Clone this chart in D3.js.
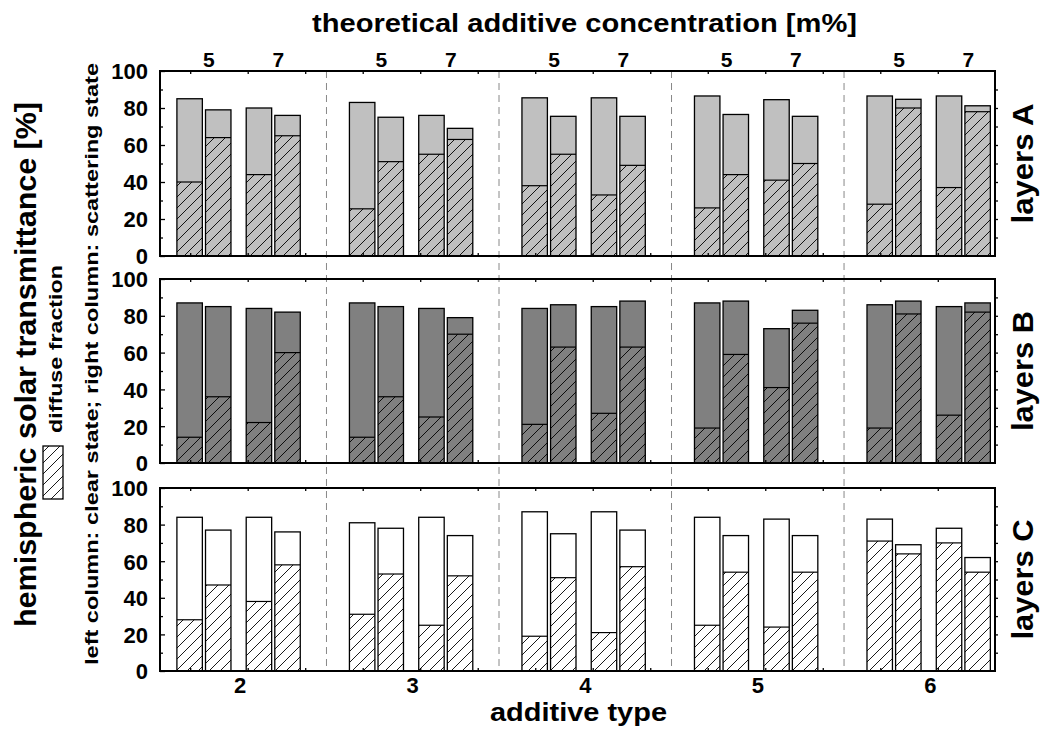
<!DOCTYPE html>
<html>
<head>
<meta charset="utf-8">
<script src="https://cdn.jsdelivr.net/npm/d3@7"></script>
<style>
  body { margin: 0; background: #fff; }
  text { font-family: "Liberation Sans", Arial, sans-serif; font-weight: bold; fill: #000; }
</style>
</head>
<body>
<svg id="chart"></svg>
<script>
const types = [2, 3, 4, 5, 6];
const concentrations = ["5", "7"];
const states = ["clear", "scattering"];
const layerNames = ["layers A", "layers B", "layers C"];
const yTicks = [0, 20, 40, 60, 80, 100];

// per additive type: [5 clear, 5 scattering, 7 clear, 7 scattering]
const totalA = [[85, 79, 80, 76], [83, 75, 76, 69], [85.5, 75.5, 85.5, 75.5], [86.5, 76.5, 84.5, 75.5], [86.5, 84.7, 86.5, 81.2]];
const diffuseA = [[40, 64, 44, 65], [25.5, 51, 55, 63], [38, 55, 33, 49], [26, 44, 41, 50], [28, 80, 37, 78]];
const totalB = [[87, 85, 84, 82], [87, 85, 84, 79], [84, 86, 85, 88], [87, 88, 73, 83], [86, 88, 85, 87]];
const diffuseB = [[14, 36, 22, 60], [14, 36, 25, 70], [21, 63, 27, 63], [19, 59, 41, 76], [19, 81, 26, 82]];
const totalC = [[84, 77, 84, 76], [81, 78, 84, 74], [87, 75, 87, 77], [84, 74, 83, 74], [83, 69, 78, 62]];
const diffuseC = [[28, 47, 38, 58], [31, 53, 25, 52], [19, 51, 21, 57], [25, 54, 24, 54], [71, 64, 70, 54]];

const width = 1046;
const height = 734;
const left = 160, right = 995;
const panels = [
  { top: 71, bottom: 256, fill: "#c0c0c0", total: totalA, diffuse: diffuseA },
  { top: 279, bottom: 463, fill: "#808080", total: totalB, diffuse: diffuseB },
  { top: 488, bottom: 671, fill: "#ffffff", total: totalC, diffuse: diffuseC }
];

const svg = d3.select("#chart").attr("width", width).attr("height", height);

svg.append("defs").append("pattern")
    .attr("id", "hatch")
    .attr("patternUnits", "userSpaceOnUse")
    .attr("width", 11).attr("height", 11)
  .append("path")
    .attr("d", "M0,11 L11,0 M-1,1 L1,-1 M10,12 L12,10")
    .attr("stroke", "#000")
    .attr("stroke-width", 0.9);

const x = d3.scaleLinear().domain([1.535, 6.375]).range([left, right]);
const conc = d3.scaleBand().domain(concentrations).range([-0.367, 0.348]).paddingInner(0.22);
const state = d3.scaleBand().domain(states).range([0, conc.bandwidth()]).paddingInner(0.11);
const minorX = d3.range(1.71, 6.375, 1 / 3);

// dashed separators between additive types
svg.selectAll(".sep")
  .data(types.slice(0, -1))
  .enter()
  .append("line")
    .attr("x1", d => x(d + 0.5)).attr("x2", d => x(d + 0.5))
    .attr("y1", panels[0].top).attr("y2", panels[2].bottom)
    .attr("stroke", "#888")
    .attr("stroke-width", 1)
    .attr("stroke-dasharray", "7,5");

panels.forEach((p, i) => {
  const y = d3.scaleLinear().domain([0, 100]).range([p.bottom, p.top]);
  const g = svg.append("g");

  const bars = [];
  types.forEach((t, ti) => {
    concentrations.forEach((c, ci) => {
      states.forEach((s, si) => {
        bars.push({
          x0: t + conc(c) + state(s),
          total: p.total[ti][ci * 2 + si],
          diffuse: p.diffuse[ti][ci * 2 + si]
        });
      });
    });
  });
  const bw = x(2 + state.bandwidth()) - x(2);

  const bar = g.selectAll(".bar").data(bars).enter().append("g");
  bar.append("rect")
      .attr("x", d => x(d.x0)).attr("width", bw)
      .attr("y", d => y(d.total)).attr("height", d => y(0) - y(d.total))
      .attr("fill", p.fill);
  bar.append("rect")
      .attr("x", d => x(d.x0)).attr("width", bw)
      .attr("y", d => y(d.diffuse)).attr("height", d => y(0) - y(d.diffuse))
      .attr("fill", "url(#hatch)");
  bar.append("line")
      .attr("x1", d => x(d.x0)).attr("x2", d => x(d.x0) + bw)
      .attr("y1", d => y(d.diffuse)).attr("y2", d => y(d.diffuse))
      .attr("stroke", "#000").attr("stroke-width", 1.2);
  bar.append("rect")
      .attr("x", d => x(d.x0)).attr("width", bw)
      .attr("y", d => y(d.total)).attr("height", d => y(0) - y(d.total))
      .attr("fill", "none")
      .attr("stroke", "#000").attr("stroke-width", 1.3);

  // y axes
  const yAxis = g.append("g").attr("transform", `translate(${left},0)`)
      .call(d3.axisLeft(y).tickValues(yTicks).tickSize(-5).tickPadding(12));
  yAxis.selectAll("text").style("font-size", "22px").attr("dy", "0.36em");
  g.append("g").attr("transform", `translate(${left},0)`)
      .call(d3.axisLeft(y).tickValues([10, 30, 50, 70, 90]).tickSize(-3).tickFormat(""));
  g.append("g").attr("transform", `translate(${right},0)`)
      .call(d3.axisRight(y).tickValues(d3.range(10, 100, 10)).tickSize(3).tickFormat(""));

  // top / bottom minor ticks
  g.append("g").attr("transform", `translate(0,${p.top})`)
      .call(d3.axisTop(x).tickValues(minorX).tickSize(-3).tickFormat(""));
  g.append("g").attr("transform", `translate(0,${p.bottom})`)
      .call(d3.axisBottom(x).tickValues(minorX).tickSize(-3).tickFormat(""));
  g.selectAll(".domain").remove();
  g.selectAll(".tick line").attr("stroke", "#000").attr("stroke-width", 1.3);

  g.append("rect")
      .attr("x", left).attr("y", p.top)
      .attr("width", right - left).attr("height", p.bottom - p.top)
      .attr("fill", "none").attr("stroke", "#000").attr("stroke-width", 2);

  g.append("text")
      .attr("transform", `translate(1033,${(p.top + p.bottom) / 2}) rotate(-90)`)
      .attr("text-anchor", "middle")
      .attr("textLength", 120).attr("lengthAdjust", "spacingAndGlyphs")
      .style("font-size", "29px")
      .text(layerNames[i]);
});

// bottom axis labels (additive type)
svg.selectAll(".xlab").data(types).enter().append("text")
    .attr("x", d => x(d)).attr("y", 693)
    .attr("text-anchor", "middle")
    .style("font-size", "22px")
    .text(d => d);

// top axis labels (concentration)
const topLabels = [];
types.forEach(t => concentrations.forEach(c => topLabels.push({ t, c })));
svg.selectAll(".toplab").data(topLabels).enter().append("text")
    .attr("x", d => x(d.t + conc(d.c) + conc.bandwidth() / 2) + 5).attr("y", 67)
    .attr("text-anchor", "middle")
    .style("font-size", "21px")
    .text(d => d.c);

svg.append("text")
    .attr("x", 584.5).attr("y", 32)
    .attr("text-anchor", "middle")
    .attr("textLength", 545).attr("lengthAdjust", "spacingAndGlyphs")
    .style("font-size", "25px")
    .text("theoretical additive concentration [m%]");

svg.append("text")
    .attr("x", 578.5).attr("y", 721)
    .attr("text-anchor", "middle")
    .attr("textLength", 177).attr("lengthAdjust", "spacingAndGlyphs")
    .style("font-size", "26px")
    .text("additive type");

svg.append("text")
    .attr("transform", "translate(36,364.5) rotate(-90)")
    .attr("text-anchor", "middle")
    .attr("textLength", 525).attr("lengthAdjust", "spacingAndGlyphs")
    .style("font-size", "30px")
    .text("hemispheric solar transmittance [%]");

svg.append("text")
    .attr("transform", "translate(98,364) rotate(-90)")
    .attr("text-anchor", "middle")
    .attr("textLength", 602).attr("lengthAdjust", "spacingAndGlyphs")
    .style("font-size", "19px")
    .text("left column: clear state; right column: scattering state");

// legend
svg.append("rect")
    .attr("x", 43).attr("y", 446).attr("width", 20).attr("height", 53)
    .attr("fill", "url(#hatch)")
    .attr("stroke", "#000").attr("stroke-width", 1.3);
svg.append("text")
    .attr("transform", "translate(62,349) rotate(-90)")
    .attr("text-anchor", "middle")
    .attr("textLength", 168).attr("lengthAdjust", "spacingAndGlyphs")
    .style("font-size", "18px")
    .text("diffuse fraction");
</script>
</body>
</html>
